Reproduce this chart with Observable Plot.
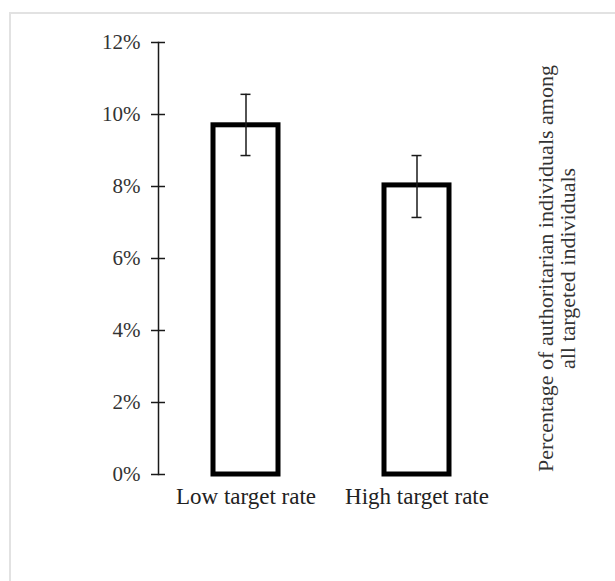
<!DOCTYPE html>
<html>
<head>
<meta charset="utf-8">
<script src="https://cdn.jsdelivr.net/npm/d3@7"></script>
<script src="https://cdn.jsdelivr.net/npm/@observablehq/plot@0.6"></script>
<style>
  html, body { margin: 0; padding: 0; background: #fff; overflow: hidden; }
  #wrap { position: relative; width: 615px; height: 581px; }
  #border { position: absolute; left: 9px; top: 12px; right: -10px; bottom: -10px; border: 2px solid #e2e2e2; }
  #chart { position: absolute; left: 0; top: 0; }
</style>
</head>
<body>
<div id="wrap"><div id="border"></div><div id="chart"></div></div>
<script>
const categories = ["Low target rate", "High target rate"];
const values = [0.097, 0.0803];
const errLow = [0.0886, 0.0714];
const errHigh = [0.1056, 0.0886];
const yTicks = [0, 0.02, 0.04, 0.06, 0.08, 0.10, 0.12];
const yLabel = "Percentage of authoritarian individuals among\nall targeted individuals";

const data = categories.map((c, i) => ({cat: c, value: values[i], lo: errLow[i], hi: errHigh[i]}));
const fontFam = "'Liberation Serif', 'Times New Roman', serif";
const ink = "#1a1a1a";

const chart = Plot.plot({
  width: 615,
  height: 581,
  marginLeft: 158,
  marginRight: 111,
  marginTop: 42,
  marginBottom: 107,
  style: {fontFamily: fontFam, color: ink, background: "transparent", overflow: "visible"},
  x: {domain: categories, paddingInner: 0.622, paddingOuter: 0.317},
  y: {domain: [0, 0.12]},
  marks: [
    Plot.barY(data, {x: "cat", y: "value", fill: "white", stroke: "black", strokeWidth: 5}),
    Plot.ruleX(data, {x: "cat", y1: "lo", y2: "hi", stroke: ink, strokeWidth: 1.5}),
    Plot.tickY(data, {x: "cat", y: "lo", stroke: ink, strokeWidth: 1.5, insetLeft: 27.5, insetRight: 27.5}),
    Plot.tickY(data, {x: "cat", y: "hi", stroke: ink, strokeWidth: 1.5, insetLeft: 27.5, insetRight: 27.5}),
    Plot.frame({anchor: "left", stroke: ink, strokeWidth: 1.5}),
    Plot.axisY({ticks: yTicks, tickFormat: d3.format(".0%"), tickSize: 7, tickPadding: 11, fontSize: 21, label: null, stroke: ink, strokeWidth: 1.5, fill: "#333"}),
    Plot.axisY({ticks: yTicks, tickFormat: () => "", tickSize: 7, dx: 7, label: null, stroke: ink, strokeWidth: 1.5}),
    Plot.axisX({tickSize: 0, tickPadding: 13, fontSize: 23, label: null, fill: "#222"}),
    Plot.text([yLabel], {frameAnchor: "right", textAnchor: "middle", rotate: -90, dx: 52, dy: 10, fontSize: 22, lineHeight: 1.0, fill: "#333"})
  ]
});
document.getElementById("chart").appendChild(chart);
</script>
</body>
</html>
